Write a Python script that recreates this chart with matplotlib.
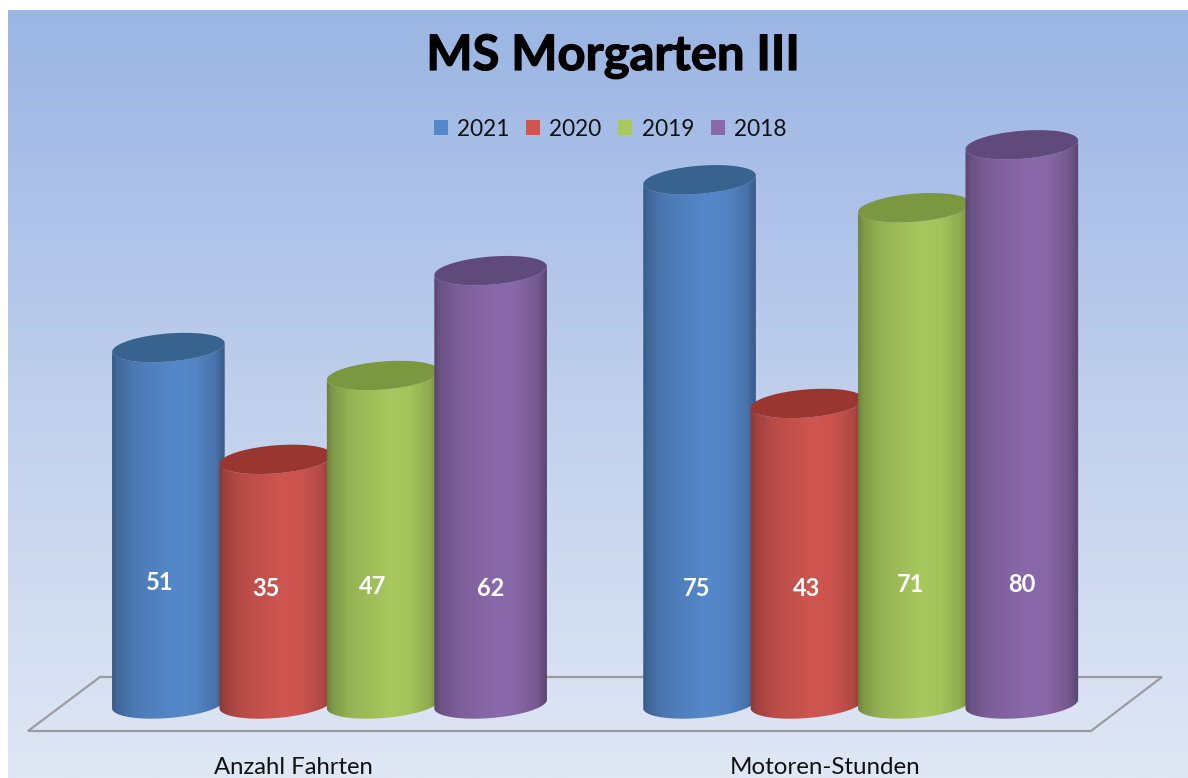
import numpy as np
import matplotlib
matplotlib.use('Agg')
import matplotlib.pyplot as plt
import matplotlib.patheffects as pe
from matplotlib.patches import Patch, Polygon

categories = ['Anzahl Fahrten', 'Motoren-Stunden']
years = ['2021', '2020', '2019', '2018']
values_2021 = [51, 75]
values_2020 = [35, 43]
values_2019 = [47, 71]
values_2018 = [62, 80]
series = [values_2021, values_2020, values_2019, values_2018]

W, H = 1188, 778
# pixel layout of the plot
PX_ZERO = 704.0       # pixel row of value 0
PX_PER_VALUE = 6.99
PX_GROUP0 = 329.5
PX_PER_GROUP = 531.2
BAR_STEP = 0.2022
BAR_W = 113.0 / PX_PER_GROUP
ELL_B = 14.0
TILT = np.radians(4.7)

body_colors = ['#5588ca', '#cf5550', '#a7c85d', '#8a69aa']
top_colors = ['#38638f', '#99362f', '#7b9740', '#604a7c']
label_px = [[(160, 582), (266, 588), (373, 587), (491, 588)],
            [(697, 588), (807, 589), (911, 584), (1022, 584)]]

plt.rcParams['font.family'] = ['Lato', 'DejaVu Sans']

fig = plt.figure(figsize=(W / 100, H / 100), dpi=100, facecolor='white')
ax = fig.add_axes([0, 0, 1, 1])


def px_x(p):
    return (p - PX_GROUP0) / PX_PER_GROUP


def px_y(p):
    return (PX_ZERO - p) / PX_PER_VALUE


xlim = (px_x(0), px_x(W))
ylim = (px_y(H), px_y(0))

# background gradient
bg_stops = [0, 0.25, 0.5, 1]
bg_cols = np.array([[0x9a, 0xb6, 0xe3], [0xad, 0xc1, 0xe9], [0xbf, 0xcf, 0xec], [0xe0, 0xe7, 0xf5]]) / 255
t = np.linspace(0, 1, 256)
bg = np.stack([np.interp(t, bg_stops, bg_cols[:, c]) for c in range(3)], axis=1)[:, None, :]
ax.imshow(bg, extent=(px_x(8), px_x(W), px_y(H), px_y(10)), aspect='auto', zorder=0, interpolation='bilinear')

# floor
floor = [(28, 731), (1091, 731), (1162, 677), (100, 677)]
ax.add_patch(Polygon([(px_x(a), px_y(b)) for a, b in floor], closed=True, fc='none',
                     ec='#9a9da0', lw=1.6, zorder=1))

shade_pos = [0, 0.05, 0.2, 0.55, 0.72, 0.9, 1]
shade_val = [0.62, 0.76, 0.89, 1.0, 0.98, 0.85, 0.62]


def ellipse(cx, value, t0, t1, n=60):
    # tilted ellipse arc in data coordinates
    a = BAR_W * PX_PER_GROUP / 2
    ts = np.linspace(t0, t1, n)
    ex = a * np.cos(ts)
    ey = ELL_B * np.sin(ts)
    x = ex * np.cos(TILT) - ey * np.sin(TILT)
    y = ex * np.sin(TILT) + ey * np.cos(TILT)
    return np.column_stack([cx + x / PX_PER_GROUP, value + y / PX_PER_VALUE])


z = 2
for g in range(len(categories)):
    for i, vals in enumerate(series):
        v = vals[g]
        cx = g + (i - 1.5) * BAR_STEP
        base = np.array(matplotlib.colors.to_rgb(body_colors[i]))
        shade = np.interp(np.linspace(0, 1, 256), shade_pos, shade_val)
        grad = (shade[:, None] * base)[None, :, :]

        outline = np.vstack([ellipse(cx, 0, np.pi, 2 * np.pi), ellipse(cx, v, 2 * np.pi, np.pi)])
        clip = Polygon(outline, closed=True, fc='none', ec='none', zorder=z)
        ax.add_patch(clip)
        im = ax.imshow(grad, extent=(cx - BAR_W / 2 - 0.002, cx + BAR_W / 2 + 0.002, -5, v + 5),
                       aspect='auto', zorder=z, interpolation='bilinear')
        im.set_clip_path(clip)

        ax.add_patch(Polygon(ellipse(cx, v, 0, 2 * np.pi), closed=True, fc=top_colors[i],
                             ec='none', zorder=z + 0.5))
        lx, ly = label_px[g][i]
        ax.text(px_x(lx), px_y(ly), str(v), color='white', fontsize=17, fontweight='bold',
                ha='center', va='center', zorder=50)
        z += 1

ax.set_xlim(xlim)
ax.set_ylim(ylim)
ax.axis('off')

ax.text(px_x(613), px_y(56), 'MS Morgarten III', fontsize=35.2, fontweight='bold', color='black',
        ha='center', va='center', zorder=60,
        path_effects=[pe.withStroke(linewidth=0.9, foreground='black')])
ax.text(px_x(293), px_y(767), categories[0], fontsize=17.2, color='#111111', ha='center', va='center', zorder=60)
ax.text(px_x(825), px_y(767), categories[1], fontsize=17.4, color='#111111', ha='center', va='center', zorder=60)

handles = [Patch(facecolor=c, edgecolor='none', label=y) for c, y in zip(body_colors, years)]
leg = ax.legend(handles=handles, ncol=4, frameon=False, fontsize=16.3, loc='center',
                bbox_to_anchor=(610 / W, 1 - 129 / H), bbox_transform=fig.transFigure,
                handlelength=0.62, handleheight=0.62, handletextpad=0.4, columnspacing=0.75,
                labelcolor='#111111')
leg.set_zorder(60)

fig.savefig('out.png', dpi=100)
